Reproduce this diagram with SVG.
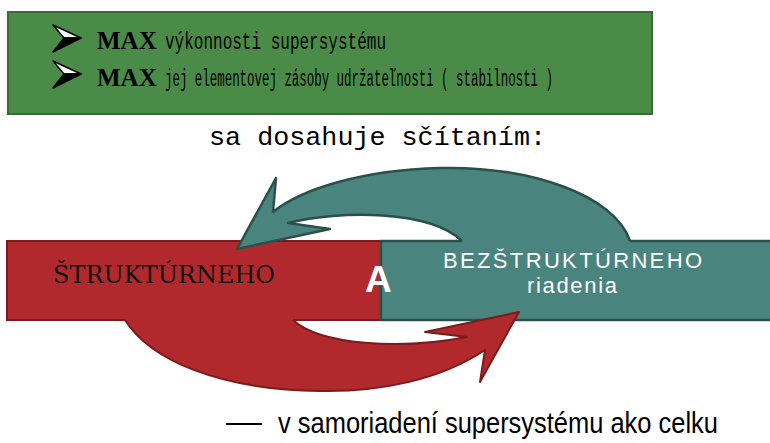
<svg xmlns="http://www.w3.org/2000/svg" width="770" height="443" viewBox="0 0 770 443">
<style>
.mono{font-family:"Liberation Mono","DejaVu Sans Mono",monospace;fill:#000}
.maxt{font-family:"Liberation Serif","Times New Roman",serif;font-weight:bold;font-size:25px;fill:#000}
.wt{font-family:"Liberation Sans",Arial,sans-serif;fill:#fff}
.redf{fill:#b1292c}
.redl{fill:none;stroke:#7a1b1c;stroke-width:2;stroke-linejoin:round}
.tealf{fill:#4a847e}
.teall{fill:none;stroke:#2b504c;stroke-width:2.5;stroke-linejoin:round}
</style>
<defs>
<g id="bul">
<polygon points="0,0 28,13 11,13" fill="#fff" stroke="#000" stroke-width="1.5" stroke-linejoin="round"/>
<polygon points="11,13 28,13 0,27" fill="#000" stroke="#000" stroke-width="1.5" stroke-linejoin="round"/>
</g>
</defs>
<rect width="770" height="443" fill="#fff"/>
<g id="header">
<rect x="8" y="12" width="644" height="102" fill="#4a8c47" stroke="#3b6b39" stroke-width="2"/>
<use href="#bul" x="53" y="25"/>
<use href="#bul" x="53" y="61"/>
<text class="maxt" x="97" y="49">MAX</text>
<text class="mono" transform="translate(165,49) scale(1,1.55)" x="0" y="0" font-size="16" textLength="221" lengthAdjust="spacingAndGlyphs">výkonnosti supersystému</text>
<text class="maxt" x="97" y="86">MAX</text>
<text class="mono" transform="translate(165,86) scale(1,2)" x="0" y="0" font-size="12.4" textLength="388" lengthAdjust="spacingAndGlyphs">jej elementovej zásoby udržateľnosti ( stabilnosti )</text>
</g>
<text id="subtitle" class="mono" x="209" y="145" font-size="26" textLength="337" lengthAdjust="spacingAndGlyphs">sa dosahuje sčítaním:</text>
<g id="struct">
<rect x="7" y="241" width="374" height="79" class="redf" stroke="#7a1b1c" stroke-width="2"/>
<text x="53" y="283" font-family="'DejaVu Serif','Liberation Serif',serif" font-size="25" textLength="222" lengthAdjust="spacingAndGlyphs" fill="#111">ŠTRUKTÚRNEHO</text>
</g>
<g id="bezstruct">
<rect x="381" y="241" width="392" height="79" class="tealf" stroke="#2b504c" stroke-width="2.5"/>
<text class="wt" x="443" y="268" font-size="22" textLength="259" lengthAdjust="spacing">BEZŠTRUKTÚRNEHO</text>
<text class="wt" x="527" y="293" font-size="22" textLength="90" lengthAdjust="spacing">riadenia</text>
</g>
<g id="connectors">
<path class="tealf" d="M630 246 L630 241 C615 195 530 166 440 168 C360 170 300 190 273 212 L276 178 L237 249 L330 229 L288 223 C340 210 430 210 462 241 L462 246 Z"/>
<path class="teall" d="M630 241 C615 195 530 166 440 168 C360 170 300 190 273 212 L276 178 L237 249 L330 229 L288 223 C340 210 430 210 462 241"/>
<path class="redf" d="M293 314 L293 320 C320 345 400 350 467 337 L425 332 L519 312 L480 382 L485 350 C440 380 380 392 320 391 C220 390 150 360 125 320 L125 314 Z"/>
<path class="redl" d="M293 320 C320 345 400 350 467 337 L425 332 L519 312 L480 382 L485 350 C440 380 380 392 320 391 C220 390 150 360 125 320"/>
</g>
<text id="a" class="wt" x="365" y="292" font-size="37" font-weight="bold">A</text>
<g id="footer">
<line x1="226" y1="424" x2="262" y2="424" stroke="#000" stroke-width="2"/>
<text transform="translate(278,433) scale(1,1.3)" x="0" y="0" font-family="'Liberation Sans',Arial,sans-serif" font-size="23" textLength="440" lengthAdjust="spacingAndGlyphs" fill="#000">v samoriadení supersystému ako celku</text>
</g>
</svg>
